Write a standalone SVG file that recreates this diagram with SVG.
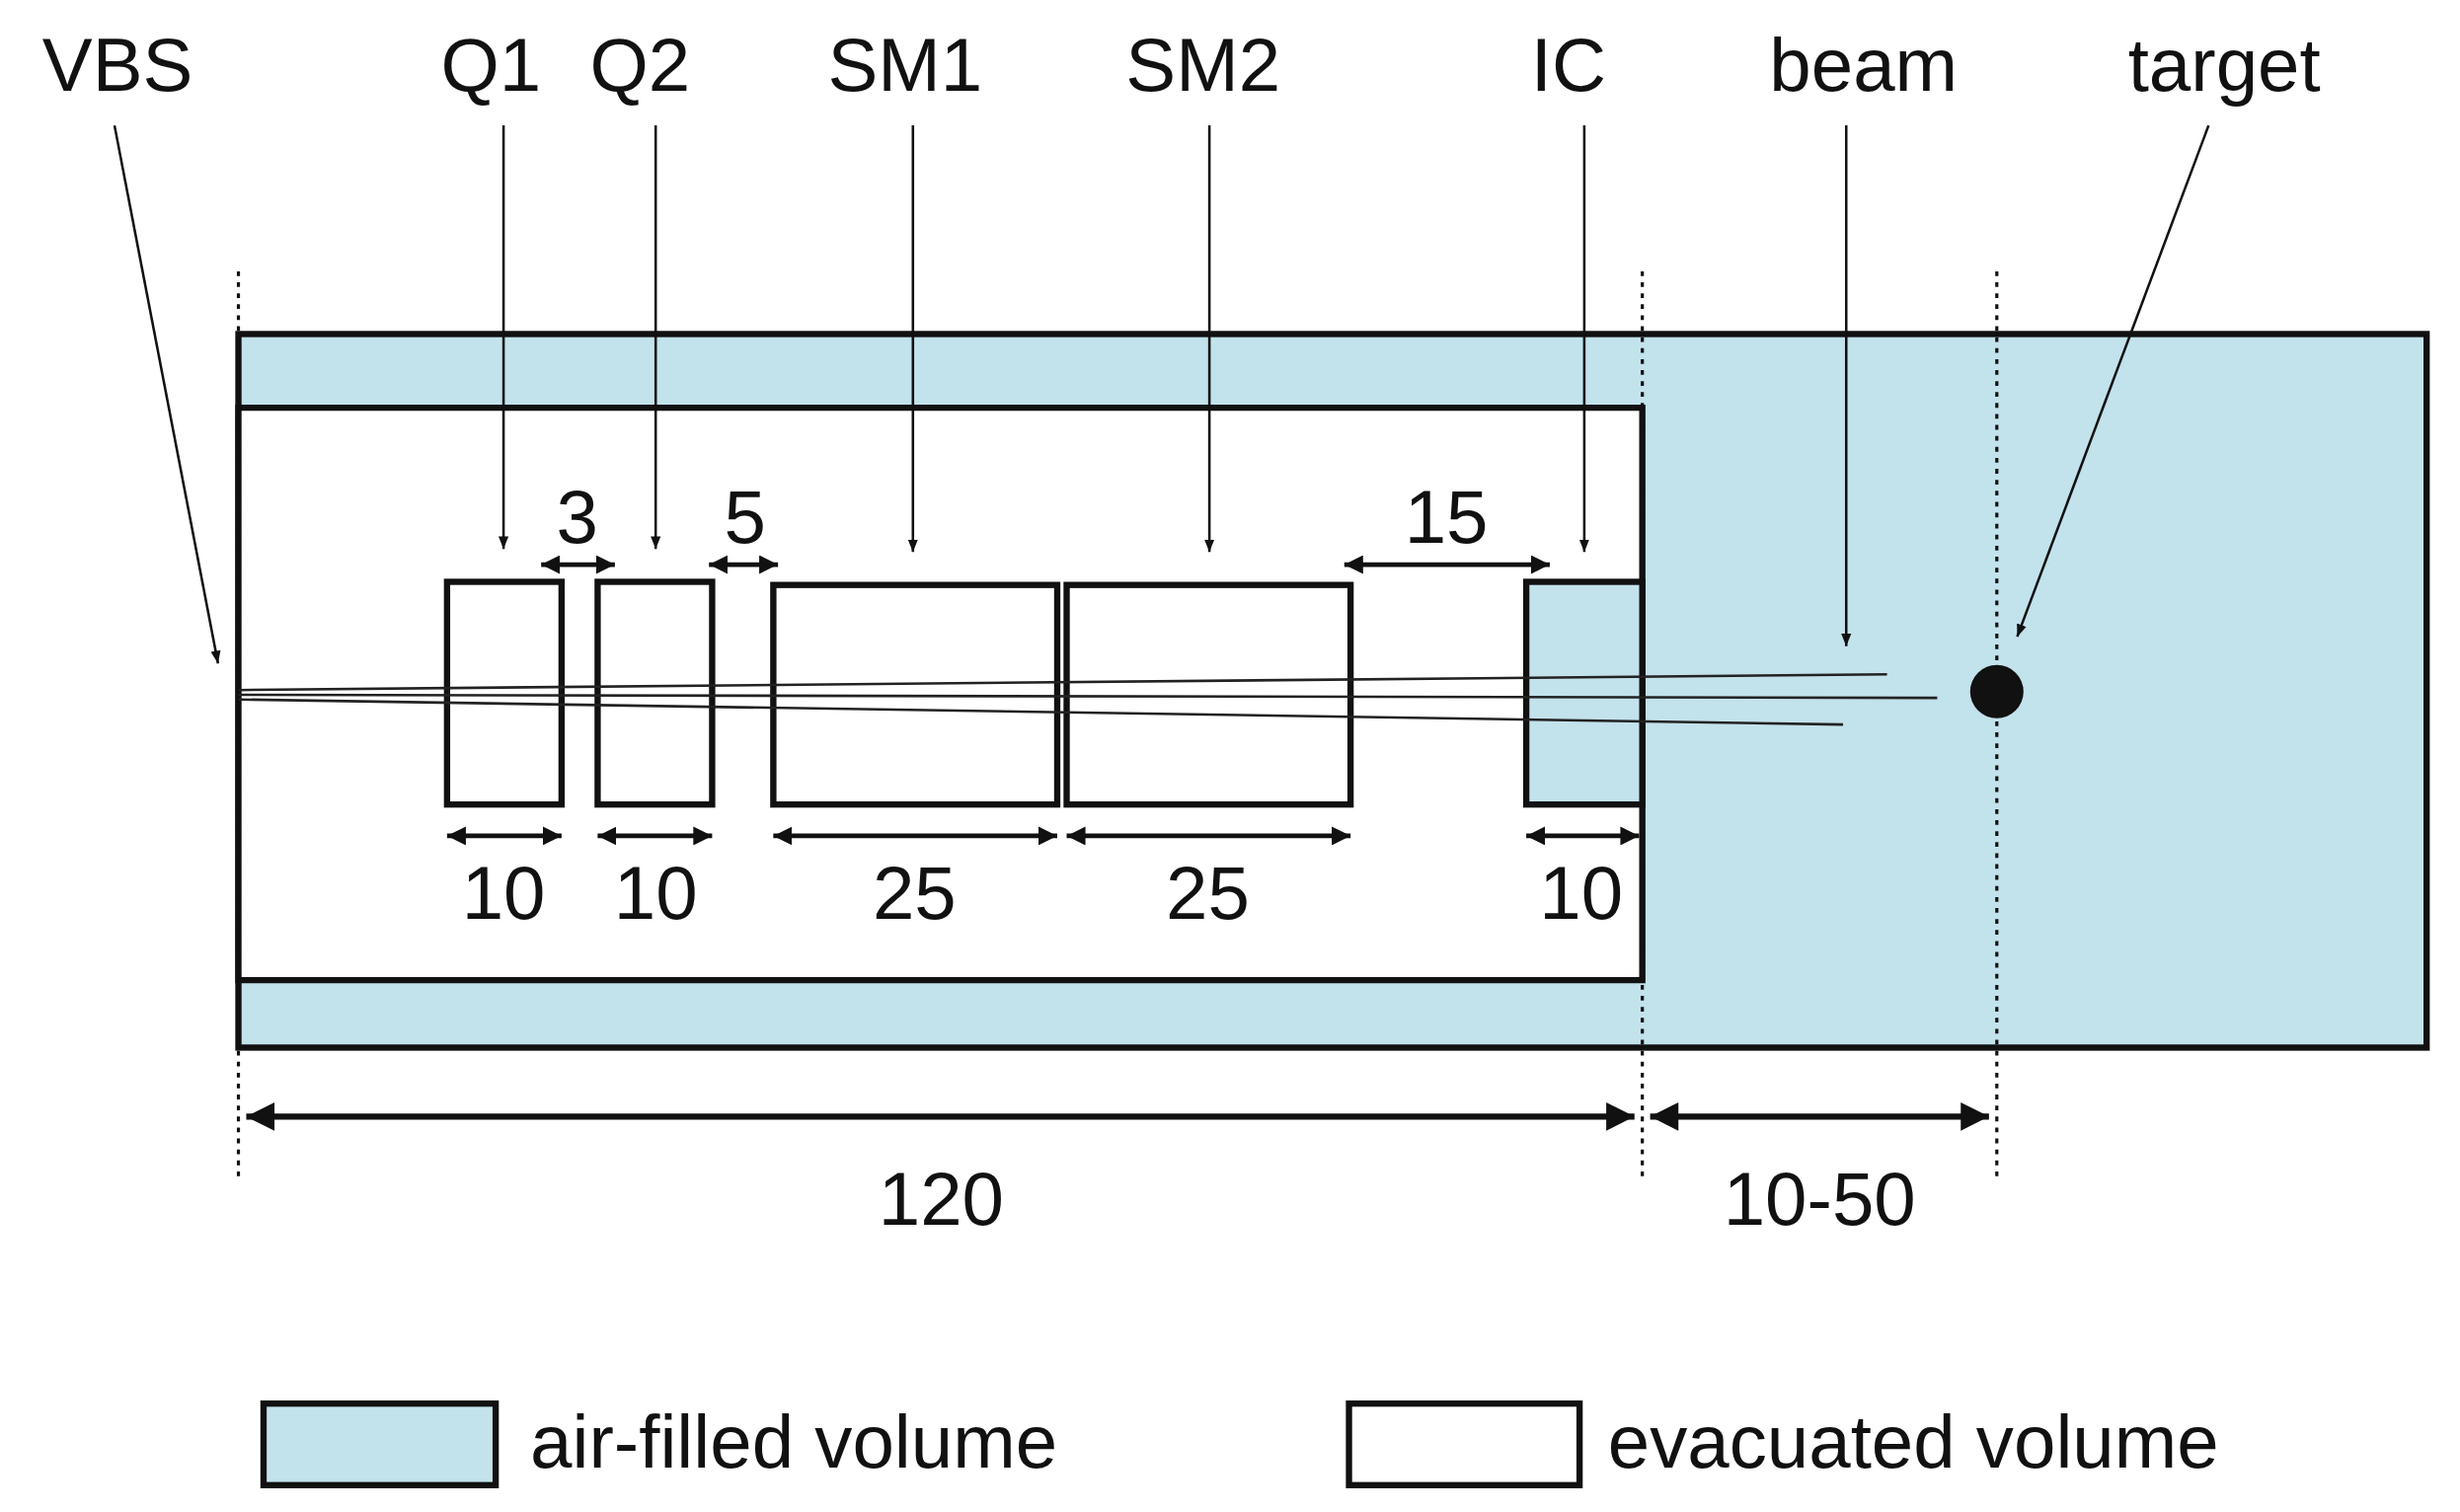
<svg xmlns="http://www.w3.org/2000/svg" width="2492" height="1532" viewBox="0 0 2492 1532">
<style>
text{font-family:"Liberation Sans",Arial,sans-serif;fill:#111;text-anchor:middle}
.lbl{font-size:48px}
.box{fill:#fff;stroke:#111;stroke-width:4}
.air{fill:#c2e2ec;stroke:#111;stroke-width:4}
.ptr{stroke:#111;stroke-width:1.6;fill:none;marker-end:url(#ah)}
.dim{stroke:#111;stroke-width:4;fill:none;marker-start:url(#dh);marker-end:url(#dh)}
.dimS{stroke:#111;stroke-width:3;fill:none;marker-start:url(#sh);marker-end:url(#sh)}
.dot{stroke:#111;stroke-width:2;stroke-dasharray:3 4;fill:none}
.beam{stroke:#222;stroke-width:1.6;fill:none}
</style>
<defs>
<marker id="ah" viewBox="0 0 10 10" refX="10" refY="5" markerWidth="8" markerHeight="10" orient="auto" markerUnits="userSpaceOnUse"><path d="M0,1 L10,5 L0,9 z" fill="#111"/></marker>
<marker id="dh" viewBox="0 0 10 10" refX="10" refY="5" markerWidth="22" markerHeight="18" orient="auto-start-reverse" markerUnits="userSpaceOnUse"><path d="M0,0 L10,5 L0,10 z" fill="#111"/></marker>
<marker id="sh" viewBox="0 0 10 10" refX="10" refY="5" markerWidth="12" markerHeight="12" orient="auto-start-reverse" markerUnits="userSpaceOnUse"><path d="M0,0 L10,5 L0,10 z" fill="#111"/></marker>
</defs>
<g transform="scale(1.589)">
<g id="outer"><rect class="air" x="152" y="213" width="1395" height="455"/></g>
<g id="vacuum"><path d="M152,260 H1047 V625 H152 Z" class="box"/></g>
<g id="Q1"><rect class="box" x="285" y="371" width="73" height="142"/></g>
<g id="Q2"><rect class="box" x="381" y="371" width="73" height="142"/></g>
<g id="SM1"><rect class="box" x="493" y="373" width="181" height="140"/></g>
<g id="SM2"><rect class="box" x="680" y="373" width="181" height="140"/></g>
<g id="IC"><rect class="air" x="973" y="371" width="74" height="142"/></g>
<g id="target"><circle cx="1273" cy="441" r="17" fill="#111"/></g>
<g id="connectors">
<line class="dot" x1="152" y1="173" x2="152" y2="750"/>
<line class="dot" x1="1047" y1="173" x2="1047" y2="750"/>
<line class="dot" x1="1273" y1="173" x2="1273" y2="750"/>
<line class="beam" x1="152" y1="440" x2="1203" y2="430"/>
<line class="beam" x1="152" y1="443" x2="1235" y2="445"/>
<line class="beam" x1="152" y1="446" x2="1175" y2="462"/>
<line class="ptr" x1="73" y1="80" x2="139" y2="423"/>
<line class="ptr" x1="321" y1="80" x2="321" y2="350"/>
<line class="ptr" x1="418" y1="80" x2="418" y2="350"/>
<line class="ptr" x1="582" y1="80" x2="582" y2="352"/>
<line class="ptr" x1="771" y1="80" x2="771" y2="352"/>
<line class="ptr" x1="1010" y1="80" x2="1010" y2="352"/>
<line class="ptr" x1="1177" y1="80" x2="1177" y2="412"/>
<line class="ptr" x1="1408" y1="80" x2="1286" y2="406"/>
<line class="dimS" x1="345" y1="360" x2="392" y2="360"/>
<line class="dimS" x1="452" y1="360" x2="496" y2="360"/>
<line class="dimS" x1="857" y1="360" x2="988" y2="360"/>
<line class="dimS" x1="285" y1="533" x2="358" y2="533"/>
<line class="dimS" x1="381" y1="533" x2="454" y2="533"/>
<line class="dimS" x1="493" y1="533" x2="674" y2="533"/>
<line class="dimS" x1="680" y1="533" x2="861" y2="533"/>
<line class="dimS" x1="973" y1="533" x2="1045" y2="533"/>
<line class="dim" x1="157" y1="712" x2="1042" y2="712"/>
<line class="dim" x1="1052" y1="712" x2="1268" y2="712"/>
</g>
<g id="labels" class="lbl">
<text x="75" y="58">VBS</text><text x="313" y="58">Q1</text><text x="408" y="58">Q2</text>
<text x="577" y="58">SM1</text><text x="767" y="58">SM2</text><text x="1000" y="58">IC</text>
<text x="1188" y="58">beam</text><text x="1418" y="58">target</text>
<text x="368" y="346">3</text><text x="475" y="346">5</text><text x="922" y="346">15</text>
<text x="321" y="586">10</text><text x="418" y="586">10</text><text x="583" y="586">25</text>
<text x="770" y="586">25</text><text x="1008" y="586">10</text>
<text x="600" y="781">120</text><text x="1160" y="781">10-50</text>
</g>
<g id="legend">
<rect class="air" x="168" y="895" width="148" height="52"/>
<text class="lbl" x="338" y="936" style="text-anchor:start">air-filled volume</text>
<rect class="box" x="860" y="895" width="147" height="52"/>
<text class="lbl" x="1025" y="936" style="text-anchor:start">evacuated volume</text>
</g>
</g>
</svg>
